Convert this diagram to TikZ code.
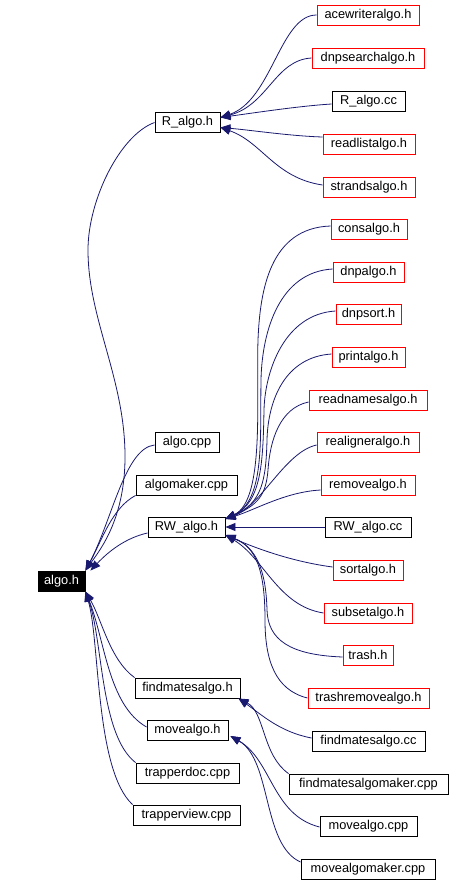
\documentclass[tikz,border=0pt]{standalone}
\usepackage{fontspec}
\setmainfont{Liberation Sans}
\usetikzlibrary{arrows.meta}
\definecolor{edgeblue}{HTML}{191970}
\tikzset{
  box/.style={draw=black, line width=0.9pt, inner sep=0pt, minimum height=20pt,
    font=\fontsize{12.8}{14}\selectfont},
  redbox/.style={box, draw=red},
  rootbox/.style={box, fill=black, text=white},
  edge/.style={draw=edgeblue, line width=0.8pt, -{Triangle[length=10pt,width=8pt]}}
}
\begin{document}
\begin{tikzpicture}[x=1pt,y=-1pt]
\useasboundingbox (0,0) rectangle (464,884);
% right column, R_algo group
\node[redbox, minimum width=102pt] (acew) at (368,15) {acewriteralgo.h};
\node[redbox, minimum width=112pt] (dnps) at (368,58) {dnpsearchalgo.h};
\node[box, minimum width=73pt] (Rcc) at (368.5,101) {R\_algo.cc};
\node[redbox, minimum width=92pt] (readl) at (369,144) {readlistalgo.h};
\node[redbox, minimum width=92pt] (strands) at (369,187) {strandsalgo.h};
% RW_algo group
\node[redbox, minimum width=76pt] (cons) at (369,229) {consalgo.h};
\node[redbox, minimum width=71pt] (dnpalgo) at (368.5,272) {dnpalgo.h};
\node[redbox, minimum width=65pt] (dnpsort) at (368.5,314) {dnpsort.h};
\node[redbox, minimum width=73pt] (printa) at (368.5,357) {printalgo.h};
\node[redbox, minimum width=118pt] (readn) at (368,400) {readnamesalgo.h};
\node[redbox, minimum width=102pt] (realign) at (368,442) {realigneralgo.h};
\node[redbox, minimum width=94pt] (remove) at (368,485) {removealgo.h};
\node[box, minimum width=86pt] (RWcc) at (368,527) {RW\_algo.cc};
\node[redbox, minimum width=70pt] (sorta) at (368,570) {sortalgo.h};
\node[redbox, minimum width=88pt] (subset) at (368,613) {subsetalgo.h};
\node[redbox, minimum width=50pt] (trash) at (368,655) {trash.h};
\node[redbox, minimum width=121pt] (trashrem) at (368.5,698) {trashremovealgo.h};
% findmates / move groups
\node[box, minimum width=113pt] (findcc) at (368.5,741) {findmatesalgo.cc};
\node[box, minimum width=159pt] (findmaker) at (368.5,784) {findmatesalgomaker.cpp};
\node[box, minimum width=97pt] (movecpp) at (368.5,826) {movealgo.cpp};
\node[box, minimum width=134pt] (movemaker) at (368,869) {movealgomaker.cpp};
% middle column
\node[box, minimum width=65pt] (Ralgo) at (187.5,122.5) {R\_algo.h};
\node[box, minimum width=64pt] (algocpp) at (187,442) {algo.cpp};
\node[box, minimum width=101pt] (algomaker) at (186.5,485) {algomaker.cpp};
\node[box, minimum width=77pt] (RW) at (186.5,527) {RW\_algo.h};
\node[box, minimum width=105pt] (findh) at (187.5,688) {findmatesalgo.h};
\node[box, minimum width=81pt] (moveh) at (187.5,730) {movealgo.h};
\node[box, minimum width=103pt] (trapdoc) at (187.5,773) {trapperdoc.cpp};
\node[box, minimum width=107pt] (trapview) at (186.5,815) {trapperview.cpp};
% root
\node[rootbox, minimum width=47pt] (algoh) at (61.5,581) {algo.h};

% edges into R_algo.h
\draw[edge] (acew.west) .. controls (280,15) and (272,100) .. ([yshift=5pt]Ralgo.east);
\draw[edge] (dnps.west) .. controls (275,60) and (268,105) .. ([yshift=5pt]Ralgo.east);
\draw[edge] ([yshift=-3pt]Rcc.west) .. controls (300,106) and (260,112) .. ([yshift=5pt]Ralgo.east);
\draw[edge] ([yshift=7pt]readl.west) .. controls (290,136) and (250,130) .. ([yshift=-5pt]Ralgo.east);
\draw[edge] ([yshift=2pt]strands.west) .. controls (275,178) and (262,142) .. ([yshift=-5pt]Ralgo.east);

% edges into RW_algo.h
\draw[edge] ([yshift=3pt]cons.west) .. controls (270,228) and (260,290) .. (258,340) .. controls (256,400) and (265,500) .. ([yshift=8pt]RW.east);
\draw[edge] ([yshift=3pt]dnpalgo.west) .. controls (280,272) and (262,330) .. (261,380) .. controls (260,440) and (265,500) .. ([yshift=8pt]RW.east);
\draw[edge] ([yshift=3pt]dnpsort.west) .. controls (285,314) and (265,370) .. (264,410) .. controls (263,460) and (262,502) .. ([yshift=8pt]RW.east);
\draw[edge] ([yshift=3pt]printa.west) .. controls (285,357) and (268,400) .. (267,440) .. controls (266,480) and (262,503) .. ([yshift=8pt]RW.east);
\draw[edge] ([yshift=-2pt]readn.west) .. controls (280,408) and (270,440) .. (268,470) .. controls (266,495) and (258,505) .. ([yshift=8pt]RW.east);
\draw[edge] ([yshift=-3pt]realign.west) .. controls (285,452) and (262,505) .. ([yshift=8pt]RW.east);
\draw[edge] ([yshift=-5pt]remove.west) .. controls (285,492) and (255,510) .. ([yshift=8pt]RW.east);
\draw[edge] (RWcc.west) -- (RW.east);
\draw[edge] ([yshift=3pt]sorta.west) .. controls (295,562) and (260,550) .. ([yshift=-8pt]RW.east);
\draw[edge] (subset.west) .. controls (278,606) and (264,558) .. ([yshift=-8pt]RW.east);
\draw[edge] ([yshift=-2pt]trash.west) .. controls (290,655) and (268,640) .. (267,610) .. controls (266,570) and (256,547) .. ([yshift=-8pt]RW.east);
\draw[edge] (trashrem.west) .. controls (275,690) and (265,660) .. (265,620) .. controls (265,570) and (256,547) .. ([yshift=-8pt]RW.east);

% edges into algo.h
\draw[edge] (Ralgo.west) .. controls (120,135) and (88,200) .. (88,250) .. controls (88,320) and (126,380) .. (125,460) .. controls (124,520) and (100,550) .. (algoh.north east);
\draw[edge] ([yshift=-3pt]algocpp.west) .. controls (125,448) and (112,520) .. (algoh.north east);
\draw[edge] (algomaker.south west) .. controls (112,508) and (102,540) .. (algoh.north east);
\draw[edge] ([yshift=-6pt]RW.west) .. controls (125,538) and (108,552) .. ([xshift=5pt]algoh.north east);
\draw[edge] (findh.north west) .. controls (110,660) and (102,620) .. (algoh.south east);
\draw[edge] ([yshift=3pt]moveh.west) .. controls (108,705) and (105,640) .. (algoh.south east);
\draw[edge] (trapdoc.north west) .. controls (100,735) and (103,640) .. (algoh.south east);
\draw[edge] (trapview.north west) .. controls (95,770) and (100,640) .. (algoh.south east);

% edges into findmatesalgo.h
\draw[edge] ([yshift=3pt]findcc.west) .. controls (280,732) and (262,715) .. ([xshift=-2pt]findh.south east);
\draw[edge] (findmaker.north west) .. controls (262,755) and (265,712) .. ([xshift=-2pt]findh.south east);

% edges into movealgo.h
\draw[edge] ([yshift=-1pt]movecpp.west) .. controls (272,815) and (272,760) .. ([xshift=2pt,yshift=-6pt]moveh.east);
\draw[edge] ([yshift=7pt]movemaker.west) .. controls (262,845) and (272,760) .. ([xshift=2pt,yshift=-6pt]moveh.east);
\end{tikzpicture}
\end{document}
